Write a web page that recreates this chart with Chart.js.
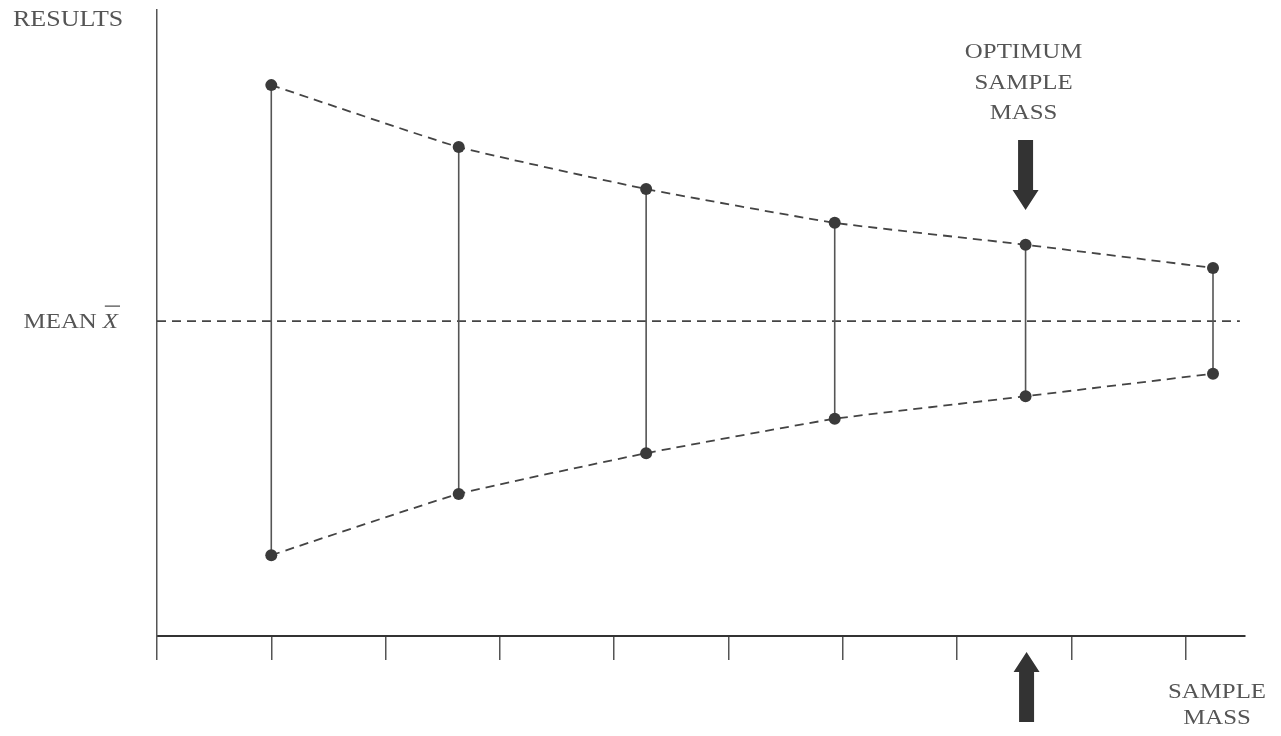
<!DOCTYPE html>
<html>
<head>
<meta charset="utf-8">
<script src="https://cdn.jsdelivr.net/npm/chart.js@4.4.1/dist/chart.umd.min.js"></script>
<style>
  html, body { margin: 0; padding: 0; background: #fff; }
  canvas { display: block; }
</style>
</head>
<body>
<canvas id="chart" width="1281" height="736"></canvas>
<script>
// Sample masses (x positions, in tick units) and the spread of results at each
const sampleMass = [1.0, 2.64, 4.28, 5.93, 7.6, 9.24];
const upperResult = [88.0, 78.1, 71.4, 66.0, 62.5, 58.8];
const lowerResult = [12.9, 22.7, 29.2, 34.7, 38.3, 41.9];
const meanValue = 50.3;
const meanSpan = [0, 9.475];
const xTicks = [0, 1, 2, 3, 4, 5, 6, 7, 8, 9];
const optimumIndex = 4;

const inkColor = "#444";
const textColor = "#555";
const serif = "'Liberation Serif', 'Times New Roman', serif";

// Vertical spread bars, broken apart with null gaps
const spreadBars = [];
sampleMass.forEach((m, i) => {
  spreadBars.push({ x: m, y: upperResult[i] });
  spreadBars.push({ x: m, y: lowerResult[i] });
  spreadBars.push({ x: m, y: null });
});

// Draws a text slightly stretched, like the scanned lettering
function stretchedText(ctx, str, x, y, size, align, italic) {
  ctx.save();
  ctx.translate(x, y);
  ctx.scale(1.13, 1);
  ctx.font = (italic ? "italic " : "") + size + "px " + serif;
  ctx.textAlign = align;
  ctx.textBaseline = "middle";
  ctx.fillStyle = textColor;
  ctx.fillText(str, 0, 0);
  const w = ctx.measureText(str).width * 1.13;
  ctx.restore();
  return w;
}

function arrow(ctx, cx, tipY, baseY, endY) {
  // head from tipY to baseY, shaft from baseY to endY
  ctx.save();
  ctx.fillStyle = "#333";
  ctx.beginPath();
  ctx.moveTo(cx, tipY);
  ctx.lineTo(cx - 13, baseY);
  ctx.lineTo(cx - 7.5, baseY);
  ctx.lineTo(cx - 7.5, endY);
  ctx.lineTo(cx + 7.5, endY);
  ctx.lineTo(cx + 7.5, baseY);
  ctx.lineTo(cx + 13, baseY);
  ctx.closePath();
  ctx.fill();
  ctx.restore();
}

const labelsPlugin = {
  id: "labels",
  afterDraw(chart) {
    const ctx = chart.ctx;
    const xs = chart.scales.x;
    const ys = chart.scales.y;

    stretchedText(ctx, "RESULTS", 13, 20, 23, "left");

    // MEAN X-bar
    const my = ys.getPixelForValue(meanValue);
    const xw = stretchedText(ctx, "X", 118, my + 1, 22, "right", true);
    stretchedText(ctx, "MEAN", 118 - xw - 6, my + 1, 22, "right");
    ctx.save();
    ctx.strokeStyle = textColor;
    ctx.lineWidth = 1.3;
    ctx.beginPath();
    ctx.moveTo(118 - xw + 2, my - 15);
    ctx.lineTo(120, my - 15);
    ctx.stroke();
    ctx.restore();

    // optimum sample mass
    const ox = xs.getPixelForValue(sampleMass[optimumIndex]);
    stretchedText(ctx, "OPTIMUM", ox - 2, 52, 22, "center");
    stretchedText(ctx, "SAMPLE", ox - 2, 83, 22, "center");
    stretchedText(ctx, "MASS", ox - 2, 113, 22, "center");
    arrow(ctx, ox, 210, 190, 140);
    arrow(ctx, ox + 1, 652, 672, 722);

    // x axis title
    stretchedText(ctx, "SAMPLE", 1217, 692, 22, "center");
    stretchedText(ctx, "MASS", 1217, 718, 22, "center");
  }
};

new Chart(document.getElementById("chart"), {
  type: "line",
  data: {
    datasets: [
      {
        data: sampleMass.map((m, i) => ({ x: m, y: upperResult[i] })),
        borderColor: inkColor,
        borderWidth: 1.8,
        borderDash: [9, 6],
        pointRadius: 6,
        pointBackgroundColor: "#3a3a3a",
        pointBorderWidth: 0,
        tension: 0.12,
      },
      {
        data: sampleMass.map((m, i) => ({ x: m, y: lowerResult[i] })),
        borderColor: inkColor,
        borderWidth: 1.8,
        borderDash: [9, 6],
        pointRadius: 6,
        pointBackgroundColor: "#3a3a3a",
        pointBorderWidth: 0,
        tension: 0.12,
      },
      {
        data: spreadBars,
        borderColor: "#555",
        borderWidth: 1.6,
        pointRadius: 0,
        spanGaps: false,
      },
      {
        data: meanSpan.map(x => ({ x: x, y: meanValue })),
        borderColor: inkColor,
        borderWidth: 1.7,
        borderDash: [9, 6],
        pointRadius: 0,
      },
    ],
  },
  options: {
    responsive: false,
    animation: false,
    layout: { padding: { left: 149, right: 36, top: 10, bottom: 76 } },
    plugins: { legend: { display: false }, tooltip: { enabled: false } },
    scales: {
      x: {
        type: "linear",
        min: 0,
        max: 9.52,
        afterBuildTicks: (scale) => { scale.ticks = xTicks.map(v => ({ value: v })); },
        ticks: { display: false },
        grid: { drawOnChartArea: false, drawTicks: true, tickLength: 24, color: "#555", lineWidth: 1.5 },
        border: { display: true, color: "#333", width: 2 },
      },
      y: {
        type: "linear",
        min: 0,
        max: 100,
        ticks: { display: false },
        grid: { display: false },
        border: { display: true, color: "#555", width: 1.5 },
      },
    },
  },
  plugins: [labelsPlugin],
});
</script>
</body>
</html>
